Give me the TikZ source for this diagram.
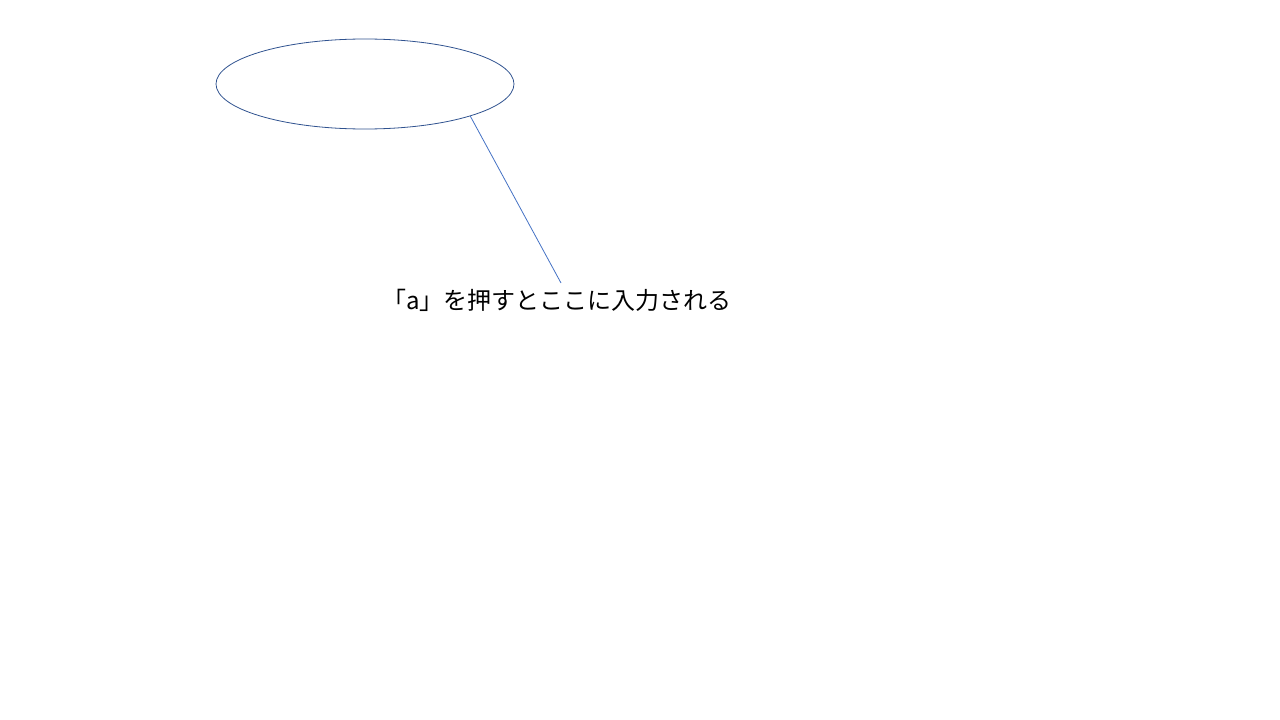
\documentclass[tikz,border=0pt]{standalone}
\usepackage{fontspec}
\newfontfamily\jp{Noto Sans CJK JP}
\usetikzlibrary{shapes.geometric}
\definecolor{ellblue}{HTML}{2F528F}
\definecolor{lineblue}{HTML}{4472C4}
\tikzset{
  callout/.style={ellipse, draw=ellblue, line width=0.8pt, minimum width=298pt, minimum height=90pt, inner sep=0pt},
  leader/.style={draw=lineblue, line width=0.8pt},
  label/.style={font=\jp\fontsize{24}{28}\selectfont, text=black, inner sep=0pt}
}
\begin{document}
\begin{tikzpicture}[x=1pt,y=-1pt]
\useasboundingbox (0,0) rectangle (1280,720);
\node[callout] (e) at (365,84) {};
\node[label] (t) at (557,300) {「a」を押すとここに入力される};
\coordinate (c) at (561,283);
\draw[leader] (e.-17.3) -- (c);
\end{tikzpicture}
\end{document}
